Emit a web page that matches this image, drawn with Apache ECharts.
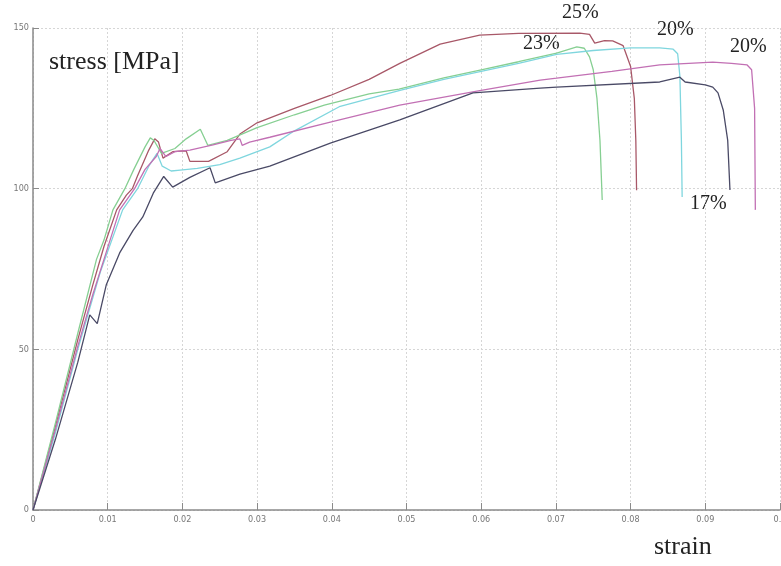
<!DOCTYPE html>
<html>
<head>
<meta charset="utf-8">
<script src="https://cdn.jsdelivr.net/npm/echarts@6/dist/echarts.min.js"></script>
<style>
html,body{margin:0;padding:0;background:#fff;}
#chart{width:781px;height:566px;}
</style>
</head>
<body>
<div id="chart"></div>
<script>
// ---- data (strain, stress MPa) ----
var xTicks = ['0','0.01','0.02','0.03','0.04','0.05','0.06','0.07','0.08','0.09','0.1'];
var yTicks = ['0','50','100','150'];

var redX = [0,.003,.006,.008,.0095,.0112,.0125,.0133,.014,.0155,.0163,.0168,.0174,.0187,.0205,.021,.0235,.026,.0277,.03,.035,.0398,.045,.0491,.0545,.0598,.065,.0732,.0745,.0752,.0765,.0776,.079,.08,.0805,.0807,.0808];
var redY = [0,26,53,70,82,93.4,98,100,104,112,115.5,114.5,109.5,111.5,111.8,108.5,108.5,111.5,117,120.5,125,129,134,139,145,147.8,148.3,148.4,148,145.3,146.1,146,144.5,138,128,115,99.5];

var greenX = [0,.003,.006,.0085,.0095,.0107,.0123,.0135,.015,.0157,.0162,.0172,.019,.0205,.0224,.0234,.026,.03,.035,.039,.045,.049,.055,.06,.065,.0701,.0728,.0738,.0745,.075,.0755,.0759,.0762];
var greenY = [0,27,55,78,84,93.4,100,106,113,115.8,115,111,112.5,115.5,118.5,113.5,115,119,123,126,129.5,131,134.5,137,139.5,142.2,144.1,143.7,141,137,128,115,96.5];

var cyanX = [0,.003,.006,.009,.012,.014,.0155,.0166,.0173,.0185,.0197,.022,.025,.0277,.0317,.035,.041,.049,.055,.06,.065,.0701,.075,.08,.0839,.0857,.0863,.0866,.0868,.0869];
var cyanY = [0,24,50,74,93.4,100,107,111,107,105.5,105.8,106.3,107.5,109.5,113,118,125.5,130.5,134,136.5,139,141.8,143,143.8,143.8,143.4,142,135,115,97.4];

var magentaX = [0,.003,.006,.008,.0095,.0116,.0136,.015,.0165,.017,.0178,.019,.021,.0241,.0265,.0277,.028,.029,.0317,.0398,.0491,.0598,.0679,.0701,.0775,.0839,.091,.0935,.0956,.0962,.0966,.0967];
var magentaY = [0,25,51,67,78,93.4,100,106,110,112.5,110,111.5,112,113.6,115,115.5,113.5,114.5,116,120.7,126,130.5,133.8,134.4,136.5,138.5,139.4,139,138.5,137,125,93.4];

var navyX = [0,.003,.006,.0076,.0086,.0098,.0116,.0134,.0147,.0161,.0175,.0187,.021,.0237,.0244,.0277,.0317,.0398,.0491,.0589,.0679,.0701,.0839,.0866,.0873,.09,.091,.0917,.0924,.093,.0933];
var navyY = [0,22,46,60.7,58,70,80,87,91.2,98.6,103.8,100.5,103.5,106.5,101.8,104.5,107,114.2,121.4,129.8,131.3,131.6,133.2,134.7,133.2,132.3,131.6,129.8,124.5,115,99.6];

var endLabels = ['25%','23%','20%','20%','17%'];

function pairs(xs, ys){ var out=[]; for(var i=0;i<xs.length;i++) out.push([xs[i], ys[i]]); return out; }

var chart = echarts.init(document.getElementById('chart'), null, {renderer:'canvas'});
var serif = '"Liberation Serif", "DejaVu Serif", serif';
function lineSeries(name, xs, ys, color){
  return {name:name, type:'line', data:pairs(xs,ys), showSymbol:false, symbol:'none',
          lineStyle:{color:color, width:1.3}, animation:false, z:3};
}
chart.setOption({
  backgroundColor:'#ffffff',
  animation:false,
  grid:{left:33, right:1, top:28, bottom:56, containLabel:false, outerBoundsMode:'none'},
  xAxis:{type:'value', min:0, max:0.1, interval:0.01,
    axisLine:{show:true, lineStyle:{color:'#8a8a8a', width:1.5}},
    axisTick:{show:true, inside:true, length:7, lineStyle:{color:'#8a8a8a'}},
    axisLabel:{color:'#777', fontSize:9, fontFamily:'"DejaVu Sans Condensed","Liberation Sans Narrow",sans-serif', margin:5,
      formatter:function(v){ return xTicks[Math.round(v*100)]; }},
    splitLine:{show:true, lineStyle:{color:'#d6d6d6', type:[2,2], width:1}}},
  yAxis:{type:'value', min:0, max:150, interval:50,
    axisLine:{show:true, lineStyle:{color:'#8a8a8a', width:1.5}},
    axisTick:{show:true, inside:true, length:6, lineStyle:{color:'#8a8a8a'}},
    axisLabel:{color:'#777', fontSize:9, fontFamily:'"DejaVu Sans Condensed","Liberation Sans Narrow",sans-serif', margin:4,
      formatter:function(v){ return yTicks[Math.round(v/50)]; }},
    splitLine:{show:true, lineStyle:{color:'#d6d6d6', type:[2,2], width:1}}},
  series:[
    lineSeries('25%', redX, redY, '#a85868'),
    lineSeries('23%', greenX, greenY, '#86cf92'),
    lineSeries('20% a', cyanX, cyanY, '#7fd6de'),
    lineSeries('20% b', magentaX, magentaY, '#c270b4'),
    lineSeries('17%', navyX, navyY, '#4a4a66')
  ],
  graphic:[
    {type:'text', left:49, top:49, style:{text:'stress [MPa]', font:'26px '+serif, fill:'#222'}},
    {type:'text', left:654, top:534, style:{text:'strain', font:'26px '+serif, fill:'#222'}},
    {type:'text', left:562, top:3, style:{text:endLabels[0], font:'20px '+serif, fill:'#222'}},
    {type:'text', left:523, top:34, style:{text:endLabels[1], font:'20px '+serif, fill:'#222'}},
    {type:'text', left:657, top:20, style:{text:endLabels[2], font:'20px '+serif, fill:'#222'}},
    {type:'text', left:730, top:37, style:{text:endLabels[3], font:'20px '+serif, fill:'#222'}},
    {type:'text', left:690, top:194, style:{text:endLabels[4], font:'20px '+serif, fill:'#222'}}
  ]
});
</script>
</body>
</html>
